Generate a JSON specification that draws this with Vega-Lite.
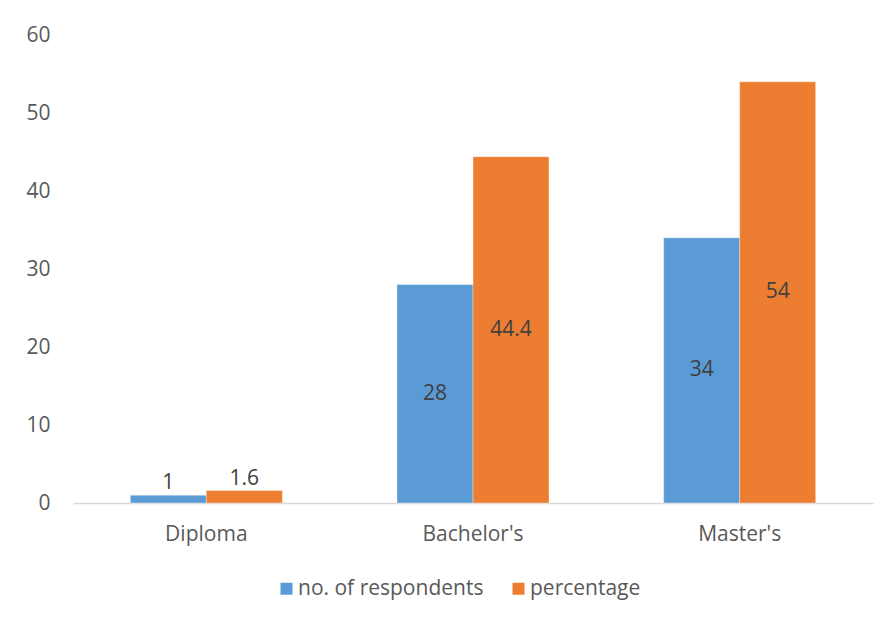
{
  "$schema": "https://vega.github.io/schema/vega-lite/v6.json",
  "width": 800,
  "height": 468,
  "autosize": {"type": "none"},
  "padding": {"left": 73, "top": 35, "right": 17, "bottom": 117},
  "background": "white",
  "config": {
    "font": "Open Sans",
    "view": {"stroke": null},
    "axis": {"labelFont": "Open Sans", "labelColor": "#595959", "labelFontSize": 21}
  },
  "data": {
    "values": [
      {"level": "Diploma", "series": "no. of respondents", "value": 1},
      {"level": "Diploma", "series": "percentage", "value": 1.6},
      {"level": "Bachelor's", "series": "no. of respondents", "value": 28},
      {"level": "Bachelor's", "series": "percentage", "value": 44.4},
      {"level": "Master's", "series": "no. of respondents", "value": 34},
      {"level": "Master's", "series": "percentage", "value": 54}
    ]
  },
  "encoding": {
    "x": {
      "field": "level",
      "type": "nominal",
      "sort": ["Diploma", "Bachelor's", "Master's"],
      "scale": {"paddingInner": 0.43, "paddingOuter": 0.215},
      "axis": {
        "title": null,
        "labelAngle": 0,
        "ticks": false,
        "domainColor": "#D9D9D9",
        "domainWidth": 1.5,
        "labelPadding": 20
      }
    },
    "xOffset": {
      "field": "series",
      "type": "nominal",
      "sort": ["no. of respondents", "percentage"],
      "scale": {"paddingInner": 0, "paddingOuter": 0}
    }
  },
  "layer": [
    {
      "mark": {"type": "bar", "stroke": "white", "strokeOpacity": 0.35, "strokeWidth": 1},
      "encoding": {
        "y": {
          "field": "value",
          "type": "quantitative",
          "scale": {"domain": [0, 60], "nice": false},
          "axis": {
            "title": null,
            "values": [0, 10, 20, 30, 40, 50, 60],
            "grid": false,
            "domain": false,
            "ticks": false,
            "labelPadding": 23
          }
        },
        "color": {
          "field": "series",
          "type": "nominal",
          "sort": ["no. of respondents", "percentage"],
          "scale": {"range": ["#5B9BD5", "#ED7D31"]},
          "legend": {
            "title": null,
            "orient": "none",
            "direction": "horizontal",
            "legendX": 203,
            "legendY": 543,
            "symbolType": "square",
            "symbolSize": 144,
            "symbolStrokeWidth": 0,
            "labelFont": "Open Sans",
            "labelFontSize": 21,
            "labelColor": "#595959",
            "labelLimit": 320,
            "columnPadding": 24,
            "labelOffset": 1
          }
        }
      }
    },
    {
      "transform": [
        {"filter": "datum.value >= 5"},
        {"calculate": "datum.value / 2", "as": "mid"}
      ],
      "mark": {"type": "text", "fontSize": 21, "color": "#404040", "baseline": "middle"},
      "encoding": {
        "y": {"field": "mid", "type": "quantitative"},
        "text": {"field": "value", "type": "quantitative"}
      }
    },
    {
      "transform": [{"filter": "datum.value < 5"}],
      "mark": {"type": "text", "fontSize": 21, "color": "#404040", "baseline": "alphabetic", "dy": -6},
      "encoding": {
        "y": {"field": "value", "type": "quantitative"},
        "text": {"field": "value", "type": "quantitative"}
      }
    }
  ]
}
